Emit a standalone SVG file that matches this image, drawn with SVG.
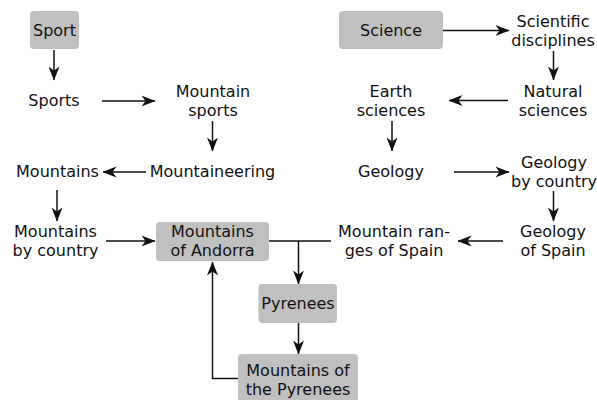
<svg xmlns="http://www.w3.org/2000/svg" width="597" height="400" viewBox="0 0 597 400">
<style>
text{font-family:"DejaVu Sans",sans-serif;font-size:16px;fill:#111;text-anchor:middle}
.box{fill:#c0c0c0}
.c line,.c polyline{stroke:#111;stroke-width:1.5;fill:none}
.a{marker-end:url(#ah)}
</style>
<defs>
<marker id="ah" markerUnits="userSpaceOnUse" markerWidth="14" markerHeight="12" refX="13.5" refY="5.5" orient="auto" viewBox="0 0 14 11">
<path d="M0,0 L14,5.5 L0,11 L4,5.5 Z" fill="#111"/>
</marker>
</defs>
<rect width="597" height="400" fill="#fff"/>
<g class="c" id="connectors">
<line class="a" x1="54" y1="50" x2="54" y2="80"/>
<line class="a" x1="102" y1="101" x2="155" y2="101"/>
<line class="a" x1="212.5" y1="121" x2="212.5" y2="151"/>
<line class="a" x1="146" y1="172" x2="103" y2="172"/>
<line class="a" x1="57" y1="190" x2="57" y2="221"/>
<line class="a" x1="106" y1="241" x2="155" y2="241"/>
<line class="a" x1="443" y1="30.5" x2="509" y2="30.5"/>
<line class="a" x1="553.5" y1="51" x2="553.5" y2="80"/>
<line class="a" x1="508" y1="100.5" x2="449" y2="100.5"/>
<line class="a" x1="392" y1="121" x2="392" y2="151"/>
<line class="a" x1="454" y1="172" x2="509" y2="172"/>
<line class="a" x1="553.5" y1="191" x2="553.5" y2="221"/>
<line class="a" x1="503" y1="241" x2="458" y2="241"/>
<line x1="331" y1="241" x2="269" y2="241"/>
<line class="a" x1="298.5" y1="241" x2="298.5" y2="284"/>
<line class="a" x1="298.5" y1="323" x2="298.5" y2="354"/>
<polyline class="a" points="238,378.5 212.5,378.5 212.5,262"/>
</g>
<g id="sport"><rect class="box" x="30" y="11" width="49" height="38" rx="4"/><text x="54.5" y="36">Sport</text></g>
<g id="sports"><text x="54" y="106">Sports</text></g>
<g id="mountain-sports"><text x="213" y="96.5">Mountain</text><text x="213" y="115.5">sports</text></g>
<g id="mountaineering"><text x="212.5" y="177">Mountaineering</text></g>
<g id="mountains"><text x="57.5" y="177">Mountains</text></g>
<g id="mountains-by-country"><text x="55.5" y="236.5">Mountains</text><text x="55.5" y="255.5">by country</text></g>
<g id="mountains-of-andorra"><rect class="box" x="156" y="222" width="113" height="39" rx="4"/><text x="212.5" y="236.5">Mountains</text><text x="212.5" y="255.5">of Andorra</text></g>
<g id="pyrenees"><rect class="box" x="258.5" y="284" width="78.5" height="39" rx="4"/><text x="298" y="309">Pyrenees</text></g>
<g id="mountains-of-the-pyrenees"><rect class="box" x="238" y="354" width="120" height="50" rx="4"/><text x="298" y="375.5">Mountains of</text><text x="298" y="394.5">the Pyrenees</text></g>
<g id="science"><rect class="box" x="339" y="11" width="104" height="38" rx="4"/><text x="391" y="36">Science</text></g>
<g id="scientific-disciplines"><text x="553" y="26.5">Scientific</text><text x="553" y="45.5">disciplines</text></g>
<g id="natural-sciences"><text x="553" y="96.5">Natural</text><text x="553" y="115.5">sciences</text></g>
<g id="earth-sciences"><text x="391" y="96.5">Earth</text><text x="391" y="115.5">sciences</text></g>
<g id="geology"><text x="391" y="177">Geology</text></g>
<g id="geology-by-country"><text x="554" y="167.5">Geology</text><text x="554" y="186.5">by country</text></g>
<g id="geology-of-spain"><text x="553" y="236.5">Geology</text><text x="553" y="255.5">of Spain</text></g>
<g id="mountain-ranges-of-spain"><text x="394" y="236.5">Mountain ran-</text><text x="394" y="255.5">ges of Spain</text></g>
</svg>
